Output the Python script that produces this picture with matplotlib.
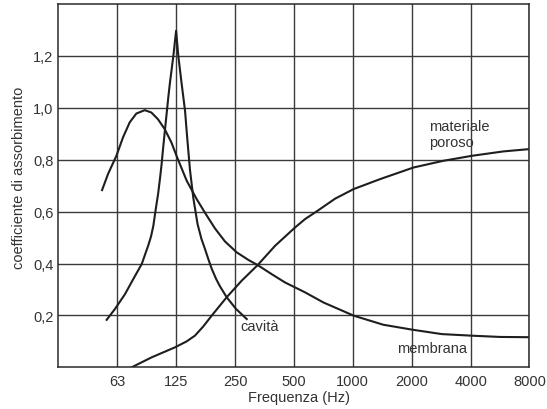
import matplotlib
matplotlib.use("Agg")
import matplotlib.pyplot as plt

plt.rcParams['font.family'] = ['Liberation Sans', 'DejaVu Sans']

# frequency ticks (Hz) and their printed labels
tick_hz = [62.5, 125, 250, 500, 1000, 2000, 4000, 8000]
tick_lab = ['63', '125', '250', '500', '1000', '2000', '4000', '8000']
y_ticks = [0.2, 0.4, 0.6, 0.8, 1.0, 1.2]
y_lab = ['0,2', '0,4', '0,6', '0,8', '1,0', '1,2']

# membrana
memb_hz = [52.3, 56.1, 61.9, 66.9, 72.4, 78.3, 86.4, 93.4, 101.0, 109.3, 118.2,
           126.7, 141.6, 159.3, 176.8, 197.6, 222.2, 255.1, 292.4, 326.4,
           385.0, 450.3, 569.6, 707.1, 1010.6, 1432, 2014, 2848, 4019, 5657, 8000]
memb_a = [0.683, 0.745, 0.815, 0.886, 0.944, 0.978, 0.991, 0.982, 0.956, 0.918, 0.867,
          0.808, 0.719, 0.648, 0.592, 0.535, 0.485, 0.443, 0.414, 0.394,
          0.359, 0.327, 0.289, 0.250, 0.199, 0.164, 0.145, 0.128, 0.122, 0.117, 0.116]

# cavità (risonatore)
cav_hz = [55.2, 60.9, 68.5, 75.5, 83.4, 90.1, 93.1, 95.6, 98.4, 101.2, 103.3, 105.3,
          107.3, 109.3, 111.9, 114.2, 116.3, 118.7, 121.0, 125.0,
          128.3, 133.5, 138.8, 142.6, 147.2, 153.1, 160.9, 168.4, 175.6, 183.0,
          190.0, 200.3, 209.5, 226.7, 252.9, 287.0]
cav_a = [0.183, 0.225, 0.282, 0.340, 0.398, 0.470, 0.505, 0.545, 0.610, 0.670, 0.725, 0.780,
         0.845, 0.905, 0.980, 1.045, 1.098, 1.150, 1.200, 1.297,
         1.200, 1.091, 0.990, 0.880, 0.760, 0.652, 0.552, 0.495, 0.456, 0.415,
         0.380, 0.340, 0.312, 0.270, 0.225, 0.186]

# materiale poroso
por_hz = [74.1, 93.8, 123.4, 141.6, 156.0, 171.9, 190.0, 226.7, 270.6, 326.4, 400.3,
          507.0, 569.6, 653.9, 812.3, 1010.6, 1375.6, 2042, 2908, 4056, 5877, 8000]
por_a = [0.0, 0.0385, 0.077, 0.100, 0.122, 0.157, 0.199, 0.270, 0.334, 0.394, 0.468,
         0.539, 0.571, 0.601, 0.650, 0.687, 0.725, 0.770, 0.796, 0.815, 0.832, 0.841]

fig = plt.figure(figsize=(5.47, 4.10), dpi=100)
ax = fig.add_axes([0.1066, 0.1017, 0.8614, 0.886])

lc = '#1e1e1e'
ax.plot(memb_hz, memb_a, color=lc, lw=1.5)
ax.plot(cav_hz, cav_a, color=lc, lw=1.5)
ax.plot(por_hz, por_a, color=lc, lw=1.5)

ax.set_xscale('log', base=2)
ax.set_xlim(31.25, 8000)
ax.set_ylim(0, 1.4)
ax.set_xticks(tick_hz)
ax.set_xticklabels(tick_lab)
ax.xaxis.set_minor_locator(matplotlib.ticker.NullLocator())
ax.set_yticks(y_ticks)
ax.set_yticklabels(y_lab)

ax.grid(True, color='#3a3a3a', lw=1.0)
ax.set_axisbelow(True)
for s in ax.spines.values():
    s.set_color('#2a2a2a')
    s.set_linewidth(1.1)

tc = '#333333'
ax.tick_params(length=0, labelsize=10.5, labelcolor=tc)
ax.tick_params(axis='x', pad=4.5)
ax.tick_params(axis='y', pad=3.5)

ax.set_xlabel('Frequenza (Hz)', fontsize=10.5, color=tc)
ax.xaxis.set_label_coords(0.511, -0.062)
ax.set_ylabel('coefficiente di assorbimento', fontsize=10.5, color=tc)
ax.yaxis.set_label_coords(-0.0685, 0.524)

ax.text(265, 0.159, 'cavità', fontsize=10.5, color=tc, va='center', ha='left')
ax.text(1676, 0.074, 'membrana', fontsize=10.5, color=tc, va='center', ha='left')
ax.text(2462, 0.898, 'materiale\nporoso', fontsize=10.5, color=tc, va='center',
        ha='left', linespacing=1.15)

fig.savefig('out.png', dpi=100)
